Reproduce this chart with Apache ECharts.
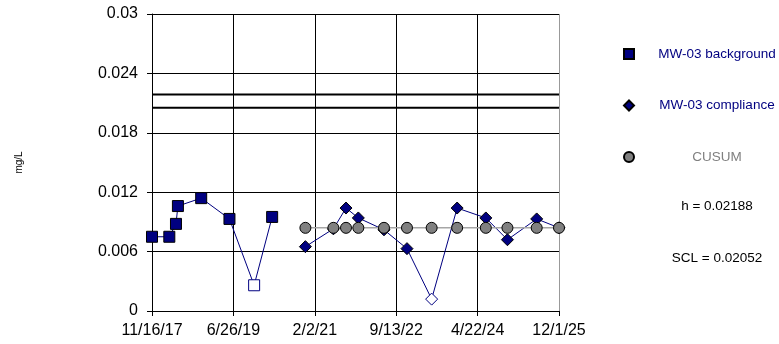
<!DOCTYPE html>
<html>
<head>
<meta charset="utf-8">
<script src="https://cdn.jsdelivr.net/npm/echarts@6/dist/echarts.min.js"></script>
<style>html,body{margin:0;padding:0;background:#fff}#c{width:779px;height:344px}</style>
</head>
<body>
<div id="c"></div>
<script>
const baseDate = '2017-11-16';
const xTickLabels = ['11/16/17', '6/26/19', '2/2/21', '9/13/22', '4/22/24', '12/1/25'];
const xMaxDate = '2025-12-01';

const bgDates = ['2017-11-16', '2018-03-21', '2018-05-08', '2018-05-22', '2018-11-06', '2019-05-29', '2019-11-23', '2020-04-01'];
const bgValues = [0.0075, 0.0075, 0.0088, 0.0106, 0.0114, 0.0093, 0.0026, 0.0095];
const bgNonDetect = [false, false, false, false, false, false, true, false];

const compDates = ['2020-11-27', '2021-06-17', '2021-09-16', '2021-12-14', '2022-06-17', '2022-11-30', '2023-05-27', '2023-11-27', '2024-06-21', '2024-11-24', '2025-06-23', '2025-12-01'];
const compValues = [0.0065, 0.0083, 0.0104, 0.0094, 0.0082, 0.0063, 0.0012, 0.0104, 0.0094, 0.0072, 0.0093, 0.0084];
const compNonDetect = [false, false, false, false, false, false, true, false, false, false, false, false];

const cusumValues = [0.0084, 0.0084, 0.0084, 0.0084, 0.0084, 0.0084, 0.0084, 0.0084, 0.0084, 0.0084, 0.0084, 0.0084];

const hValue = 0.02188;
const sclValue = 0.02052;

function dayOffset(s) {
  const p = s.split('-').map(Number);
  const b = baseDate.split('-').map(Number);
  return Math.round((Date.UTC(p[0], p[1] - 1, p[2]) - Date.UTC(b[0], b[1] - 1, b[2])) / 86400000);
}
const xMax = dayOffset(xMaxDate);
const xInterval = xMax / (xTickLabels.length - 1);

function build(dates, values, nd, color) {
  return dates.map((d, i) => {
    const item = { value: [dayOffset(d), values[i]] };
    if (nd && nd[i]) item.itemStyle = { color: '#ffffff', borderColor: color, borderWidth: 1 };
    return item;
  });
}

const NAVY = '#000080';
const FONT = 'Arial, "Liberation Sans", sans-serif';
const richFor = c => ({ a: { width: 156, align: 'center', lineHeight: 16, fontSize: 13.5, fontFamily: FONT, color: c } });

const chart = echarts.init(document.getElementById('c'), null, { renderer: 'canvas' });
chart.setOption({
  animation: false,
  backgroundColor: '#ffffff',
  grid: { left: 152, right: 220, top: 14, bottom: 33, containLabel: false },
  xAxis: {
    type: 'value', min: 0, max: xMax, interval: xInterval,
    axisLine: { show: true, lineStyle: { color: '#000', width: 1 } },
    axisTick: { show: true, length: 5, lineStyle: { color: '#000' } },
    axisLabel: {
      margin: 12, color: '#000', fontSize: 16, fontFamily: FONT,
      formatter: v => xTickLabels[Math.round(v / xInterval)]
    },
    splitLine: { show: true, lineStyle: { color: ['#000', '#000', '#000', '#000', '#000', '#999'], width: 1 } }
  },
  yAxis: {
    type: 'value', min: 0, max: 0.03, interval: 0.006,
    name: 'mg/L', nameLocation: 'middle', nameRotate: 90, nameGap: 128,
    nameTextStyle: { color: '#000', fontSize: 10, fontFamily: FONT },
    axisLine: { show: true, lineStyle: { color: '#000', width: 1 } },
    axisTick: { show: true, length: 5, lineStyle: { color: '#000' } },
    axisLabel: { margin: 14, color: '#000', fontSize: 16, fontFamily: FONT },
    splitLine: { show: true, lineStyle: { color: '#000', width: 1 } }
  },
  legend: {
    orient: 'vertical', left: 623, top: 47, padding: 0, itemWidth: 10, itemHeight: 10, itemGap: 37.5,
    selectedMode: false,
    textStyle: { fontSize: 13.5, fontFamily: FONT },
    formatter: n => '{a|' + n + '}',
    data: [
      { name: 'MW-03 background', icon: 'rect', textStyle: { color: NAVY, rich: richFor(NAVY) } },
      { name: 'MW-03 compliance', icon: 'diamond', textStyle: { color: NAVY, rich: richFor(NAVY) } },
      { name: 'CUSUM', icon: 'circle', textStyle: { color: '#808080', rich: richFor('#808080') } }
    ]
  },
  graphic: [
    { type: 'text', x: 717, y: 206, style: { text: 'h = ' + hValue, fill: '#000', font: '13.5px ' + FONT, align: 'center', verticalAlign: 'middle' } },
    { type: 'text', x: 717, y: 258, style: { text: 'SCL = ' + sclValue, fill: '#000', font: '13.5px ' + FONT, align: 'center', verticalAlign: 'middle' } }
  ],
  series: [
    {
      name: 'h', type: 'line', data: [[0, hValue], [xMax, hValue]],
      symbol: 'none', lineStyle: { color: '#000', width: 2 }, silent: true, z: 2
    },
    {
      name: 'SCL', type: 'line', data: [[0, sclValue], [xMax, sclValue]],
      symbol: 'none', lineStyle: { color: '#000', width: 2 }, silent: true, z: 2
    },
    {
      name: 'MW-03 background', type: 'line', data: build(bgDates, bgValues, bgNonDetect, NAVY),
      symbol: 'rect', symbolSize: 11, showAllSymbol: true,
      lineStyle: { color: NAVY, width: 1 },
      itemStyle: { color: NAVY, borderColor: '#000', borderWidth: 1 },
      z: 3
    },
    {
      name: 'MW-03 compliance', type: 'line', data: build(compDates, compValues, compNonDetect, NAVY),
      symbol: 'diamond', symbolSize: 12, showAllSymbol: true,
      lineStyle: { color: NAVY, width: 1 },
      itemStyle: { color: NAVY, borderColor: '#000', borderWidth: 1 },
      z: 3
    },
    {
      name: 'CUSUM', type: 'line', data: build(compDates, cusumValues, null, '#808080'),
      symbol: 'circle', symbolSize: 11, showAllSymbol: true,
      lineStyle: { color: '#a6a6a6', width: 1.5 },
      itemStyle: { color: '#808080', borderColor: '#000', borderWidth: 1 },
      z: 4
    }
  ]
});
</script>
</body>
</html>
